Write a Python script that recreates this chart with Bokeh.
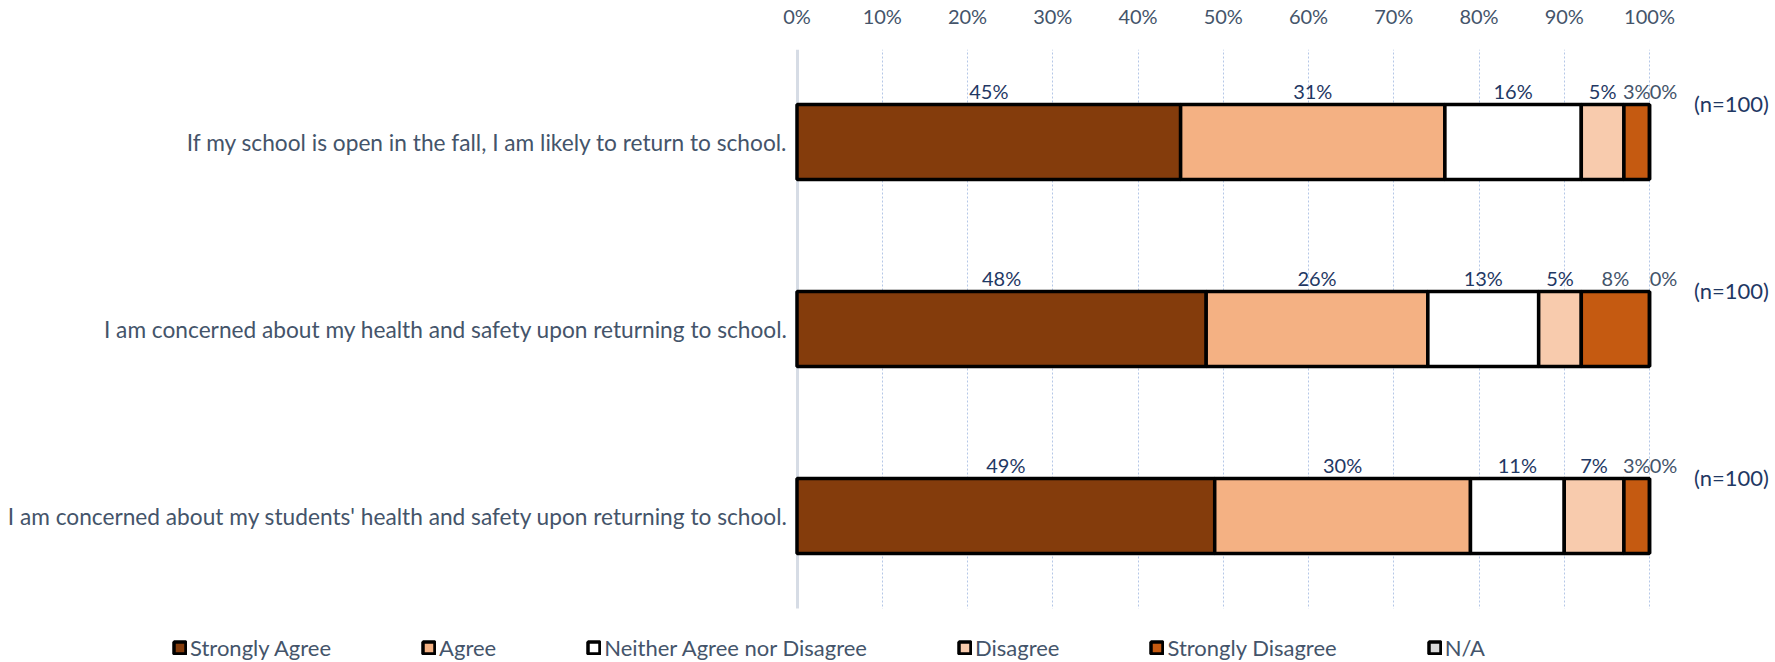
from bokeh.plotting import figure
from bokeh.models import (ColumnDataSource, Range1d, FixedTicker, Grid,
                          Legend, LegendItem, BoxAnnotation)
from bokeh.core.properties import value
from bokeh.embed import file_html
from bokeh.resources import INLINE

# ---------------- data ----------------
categories = [
    "If my school is open in the fall, I am likely to return to school.",
    "I am concerned about my health and safety upon returning to school.",
    "I am concerned about my students' health and safety upon returning to school.",
]
series = ["Strongly Agree", "Agree", "Neither Agree nor Disagree",
          "Disagree", "Strongly Disagree", "N/A"]
strongly_agree = [45, 48, 49]
agree = [31, 26, 30]
neither = [16, 13, 11]
disagree = [5, 5, 7]
strongly_disagree = [3, 8, 3]
not_applicable = [0, 0, 0]
n_labels = ["(n=100)", "(n=100)", "(n=100)"]
tick_values = [0, 10, 20, 30, 40, 50, 60, 70, 80, 90, 100]
tick_labels = ["0%", "10%", "20%", "30%", "40%", "50%", "60%", "70%", "80%", "90%", "100%"]

# ---------------- style / layout ----------------
series_colors = ["#843C0C", "#F4B183", "#FFFFFF", "#F8CBAD", "#C55A11", "#D9D9D9"]
label_colors = ["#1F3864", "#1F3864", "#1F3864", "#1F3864", "#44546A", "#44546A"]
TEXT = "#44546A"
FONT = "Lato"

W, H = 1775, 662
TOP = 49                   # frame top (screen px)
plot_left = 796.5          # screen x of 0%
px_per_pct = 8.525         # screen px per percentage point
unit_px = 187              # screen px per category
first_center_px = 141.5    # screen y of first category's centre
grid_bottom_px = 608       # where the plot area ends

x_start = -plot_left / px_per_pct
x_end = x_start + W / px_per_pct

n = len(categories)
ypos = [n - 1 - i for i in range(n)]
y_end = ypos[0] + (first_center_px - TOP) / unit_px
y_start = y_end - (H - TOP) / unit_px
y_cover = y_end - (grid_bottom_px - TOP) / unit_px

keys = ["sa", "ag", "ne", "di", "sd", "na"]
values = [strongly_agree, agree, neither, disagree, strongly_disagree, not_applicable]
data = {"y": ypos}
for k, v in zip(keys, values):
    data[k] = v
source = ColumnDataSource(data)

p = figure(width=W, height=H, output_backend="svg", toolbar_location=None,
           x_range=Range1d(x_start, x_end), y_range=Range1d(y_start, y_end),
           x_axis_location="above", y_axis_location=None,
           min_border_left=0, min_border_right=0, min_border_top=TOP,
           min_border_bottom=0)
p.outline_line_color = None
p.background_fill_color = "white"
p.border_fill_color = "white"

# axis
ax = p.xaxis[0]
ax.ticker = FixedTicker(ticks=tick_values)
ax.major_label_overrides = {t: l for t, l in zip(tick_values, tick_labels)}
ax.axis_line_color = None
ax.major_tick_line_color = None
ax.minor_tick_line_color = None
ax.major_tick_out = 0
ax.major_tick_in = 0
ax.major_label_text_font = FONT
ax.major_label_text_font_size = "20px"
ax.major_label_text_color = TEXT
ax.major_label_standoff = 22

# grids
p.xgrid.visible = False
p.ygrid.visible = False
g = Grid(dimension=0, ticker=FixedTicker(ticks=tick_values[1:]),
         grid_line_color="#B4C7E7", grid_line_dash="2 2", grid_line_width=1)
p.add_layout(g)
g0 = Grid(dimension=0, ticker=FixedTicker(ticks=tick_values[:1]),
          grid_line_color="#D6DCE5", grid_line_width=3)
p.add_layout(g0)
# plot area ends above the legend
p.add_layout(BoxAnnotation(top=y_cover, fill_color="white", fill_alpha=1,
                           line_color=None))

# bars
rs = p.hbar_stack(keys, y="y", height=0.4, color=series_colors,
                  line_color="black", line_width=3.5, source=source)

# data labels
lx, ly, lt, lc, off = [], [], [], [], []
for ci in range(n):
    start = 0
    for si, v in enumerate(values):
        val = v[ci]
        lx.append(start + val / 2)
        ly.append(ypos[ci] + 0.275)
        lt.append(f"{val}%")
        lc.append(label_colors[si])
        off.append(14 if val == 0 else 0)
        start += val
lsrc = ColumnDataSource(dict(x=lx, y=ly, text=lt, color=lc, off=off))
p.text(x="x", y="y", text="text", text_color="color",
       x_offset="off", source=lsrc, text_font=value(FONT), text_font_size=value("20px"),
       text_align="center", text_baseline="middle")

# n labels
totals = [sum(v[ci] for v in values) for ci in range(n)]
nsrc = ColumnDataSource(dict(x=totals, y=[yy + 0.205 for yy in ypos], text=n_labels))
p.text(x="x", y="y", text="text", source=nsrc,
       x_offset=82, text_color="#1F3864", text_font=value(FONT), text_font_size=value("22px"),
       text_align="center", text_baseline="middle")

# category labels
csrc = ColumnDataSource(dict(x=[0] * n, y=ypos, text=categories))
p.text(x="x", y="y", text="text", source=csrc, x_offset=-9, text_color=TEXT,
       text_font=value(FONT), text_font_size=value("22.7px"),
       text_align="right", text_baseline="middle")

# legend
items = [LegendItem(label=s, renderers=[r]) for s, r in zip(series, rs)]
legend = Legend(items=items, orientation="horizontal", location=(172, 1),
                glyph_width=15, glyph_height=15, label_standoff=3, spacing=90,
                padding=0, margin=0, border_line_color=None, background_fill_alpha=0,
                label_text_font=FONT, label_text_font_size="22px", label_text_color=TEXT)
p.add_layout(legend, "center")

open("out.html", "w").write(file_html(p, INLINE))
